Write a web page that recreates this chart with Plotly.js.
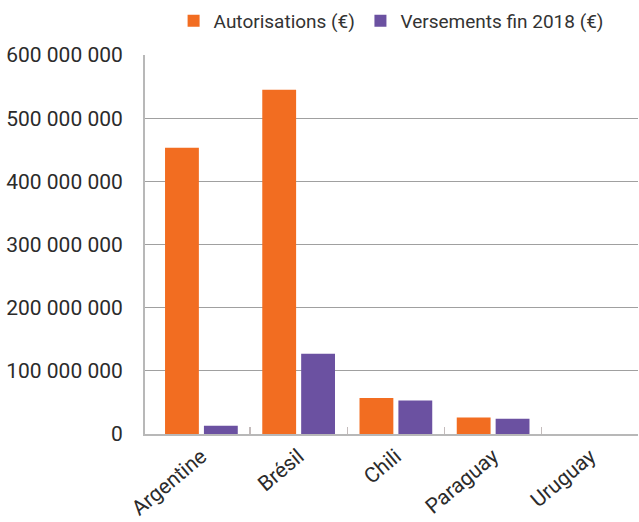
<!DOCTYPE html>
<html>
<head>
<meta charset="utf-8">
<script src="https://cdn.plot.ly/plotly-3.0.1.min.js"></script>
<style>html,body{margin:0;padding:0;background:#fff;}#chart{width:639px;height:522px;}</style>
</head>
<body>
<div id="chart"></div>
<script>
const categories = ["Argentine", "Brésil", "Chili", "Paraguay", "Uruguay"];
const autorisations = [453000000, 545000000, 57000000, 26000000, 0];
const versements = [13000000, 127000000, 53000000, 24000000, 0];
const seriesNames = ["Autorisations (€)", "Versements fin 2018 (€)"];
const yTickVals = [0, 100000000, 200000000, 300000000, 400000000, 500000000, 600000000];
const yTickText = ["0", "100 000 000", "200 000 000", "300 000 000", "400 000 000", "500 000 000", "600 000 000"];
const boundaryTicks = [0.5, 1.5, 2.5, 3.5];

const traces = [
  {type: "bar", name: seriesNames[0], x: categories, y: autorisations, marker: {color: "#F26D21"}, legend: "legend"},
  {type: "bar", name: seriesNames[1], x: categories, y: versements, marker: {color: "#6B51A1"}, legend: "legend2"},
  {type: "scatter", x: [], y: [], xaxis: "x2", yaxis: "y", showlegend: false, hoverinfo: "skip"}
];

const legendBase = {orientation: "h", xanchor: "left", y: 1.09, yanchor: "middle",
  font: {size: 19, color: "#333"}, bgcolor: "rgba(0,0,0,0)"};

const layout = {
  width: 639, height: 522,
  margin: {l: 145, r: 1, t: 55, b: 87.5, pad: 0},
  paper_bgcolor: "#fff", plot_bgcolor: "#fff",
  font: {family: "Roboto, sans-serif", size: 20, color: "#2b2b2b"},
  barmode: "group", bargap: 0.2, bargroupgap: 0.13,
  showlegend: true,
  legend: Object.assign({}, legendBase, {x: 0.058}),
  legend2: Object.assign({}, legendBase, {x: 0.437}),
  xaxis: {type: "category", range: [-0.58, 4.49], showgrid: false, zeroline: false,
          showline: true, linecolor: "#b8b8b8", linewidth: 2, ticks: "",
          tickangle: -40, tickfont: {size: 21, color: "#2b2b2b"}},
  xaxis2: {type: "linear", overlaying: "x", anchor: "y", side: "bottom", range: [-0.58, 4.49],
           tickvals: boundaryTicks, showticklabels: false, ticks: "inside", ticklen: 7,
           tickwidth: 1.5, tickcolor: "#c4bcbc", showgrid: false, zeroline: false, showline: false},
  yaxis: {range: [0, 600000000], tickvals: yTickVals, ticktext: yTickText,
          showgrid: true, gridcolor: "#a0a0a0", gridwidth: 1.3, zeroline: false,
          showline: true, linecolor: "#b8b8b8", linewidth: 2, ticks: "",
          ticklabelstandoff: 16, tickfont: {size: 21, color: "#2b2b2b"}}
};

Plotly.newPlot("chart", traces, layout, {displayModeBar: false, staticPlot: true});
</script>
</body>
</html>
